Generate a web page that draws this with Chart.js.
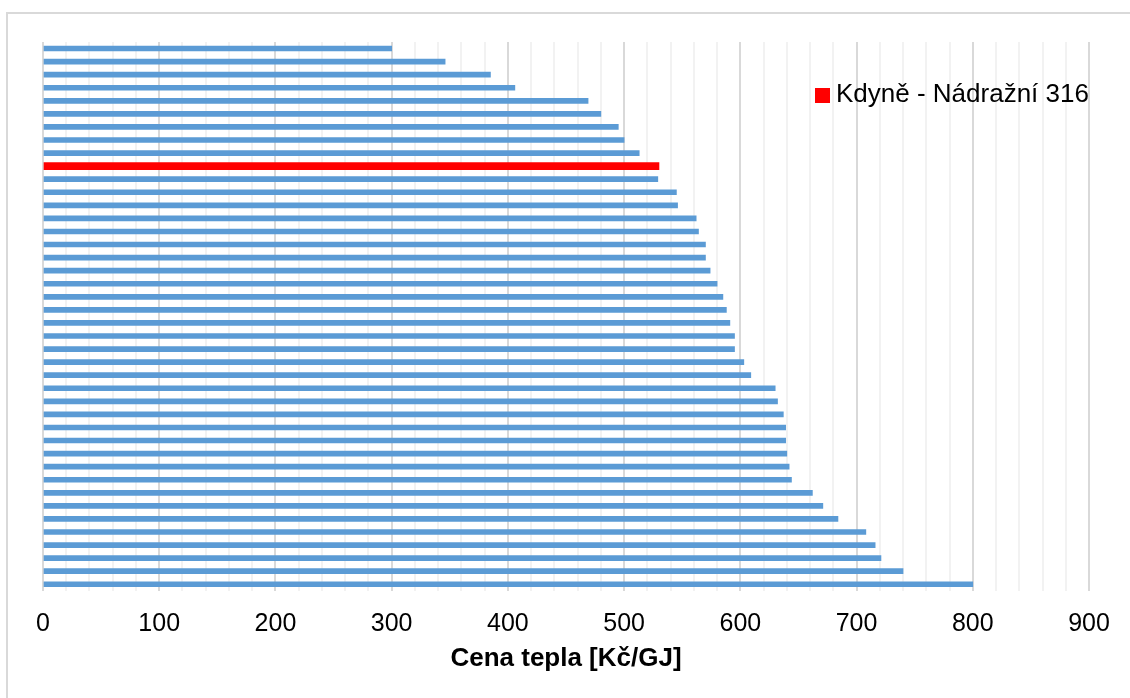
<!DOCTYPE html>
<html>
<head>
<meta charset="utf-8">
<script src="https://cdn.jsdelivr.net/npm/chart.js@4/dist/chart.umd.min.js"></script>
<style>
  html, body { margin: 0; padding: 0; background: #fff; overflow: hidden; }
  #wrap { position: relative; width: 1130px; height: 698px; }
  #ramecek { position: absolute; left: 6px; top: 12px; width: 1130px; height: 698px;
    border: 2px solid #d9d9d9; pointer-events: none; }
  #legenda { position: absolute; left: 815px; top: 78px; font-family: "Liberation Sans", Arial, sans-serif;
    font-size: 26px; line-height: 31px; color: #000; white-space: nowrap; }
  #legenda span.box { display: inline-block; width: 15px; height: 15px; margin-right: 6px; vertical-align: -1px; }
</style>
</head>
<body>
<div id="wrap">
  <canvas id="graf" width="1130" height="698"></canvas>
  <div id="ramecek"></div>
  <div id="legenda"></div>
</div>
<script>
// Cena tepla - porovnání lokalit
const kategorie = Array.from({ length: 42 }, (_, i) => 'Lokalita ' + (i + 1));
kategorie[9] = 'Kdyně - Nádražní 316';

const ceny = [300, 346, 385, 406, 469, 480, 495, 500, 513, 530,
              529, 545, 546, 562, 564, 570, 570, 574, 580, 585,
              588, 591, 595, 595, 603, 609, 630, 632, 637, 639,
              639, 640, 642, 644, 662, 671, 684, 708, 716, 721,
              740, 800];

const zvyraznenyIndex = 9;
const popisOsy = 'Cena tepla [Kč/GJ]';

// Ostatní lokality vs. zvýrazněná
const ostatni = ceny.map((v, i) => i === zvyraznenyIndex ? null : v);
const kdyne = ceny.map((v, i) => i === zvyraznenyIndex ? v : null);

const pismo = '"Liberation Sans", Arial, sans-serif';

const graf = new Chart(document.getElementById('graf').getContext('2d'), {
    type: 'bar',
    data: {
        labels: kategorie,
        datasets: [{
            label: 'Ostatní',
            data: ostatni,
            backgroundColor: '#5b9bd5',
            barThickness: 5
        }, {
            label: 'Kdyně - Nádražní 316',
            data: kdyne,
            backgroundColor: '#ff0000',
            barThickness: 7
        }]
    },
    options: {
        indexAxis: 'y',
        responsive: false,
        animation: false,
        datasets: { bar: { grouped: false } },
        layout: { padding: { left: 43, right: 41, top: 42, bottom: 24 } },
        plugins: {
            legend: { display: false },
            tooltip: { enabled: false }
        },
        scales: {
            y: { display: false },
            x: {
                min: 0,
                max: 900,
                border: { display: false },
                grid: {
                    drawTicks: false,
                    lineWidth: 2,
                    color: ctx => (ctx.tick && ctx.tick.value % 100 === 0) ? '#d9d9d9' : '#f2f2f2'
                },
                ticks: {
                    stepSize: 20,
                    autoSkip: false,
                    maxRotation: 0,
                    padding: 18,
                    color: '#000',
                    font: { family: pismo, size: 25 },
                    callback: v => v % 100 === 0 ? v : ''
                },
                title: {
                    display: true,
                    text: popisOsy,
                    color: '#000',
                    padding: { top: -14, bottom: 0 },
                    font: { family: pismo, size: 26, weight: 'bold' }
                }
            }
        }
    }
});

// Legenda jen pro zvýrazněnou lokalitu
const ds = graf.data.datasets[1];
document.getElementById('legenda').innerHTML =
    '<span class="box" style="background:' + ds.backgroundColor + '"></span>' + ds.label;
</script>
</body>
</html>
